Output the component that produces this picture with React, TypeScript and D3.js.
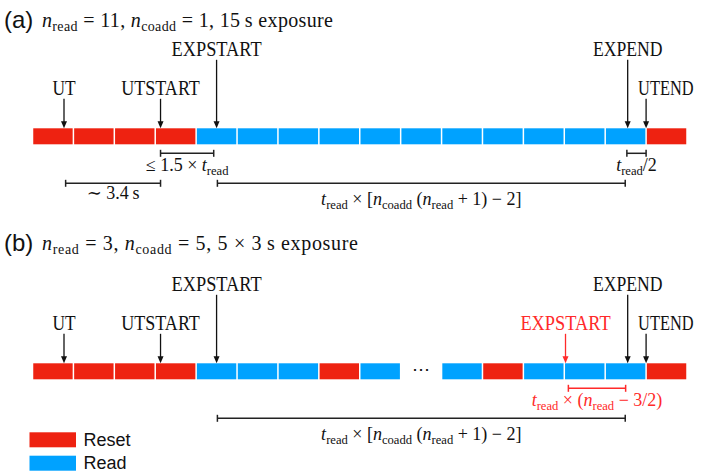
import React from "react";
import * as d3 from "d3";

// ---------- data ----------
const SLOT_COUNT = 16;
const cellsA = ["reset", "reset", "reset", "reset", "read", "read", "read", "read", "read", "read", "read", "read", "read", "read", "read", "reset"];
const cellsB = ["reset", "reset", "reset", "reset", "read", "read", "read", "reset", "read", "gap", "read", "reset", "read", "read", "read", "reset"];

// marker positions in slot (t_read) units
const markersA = [
  { name: "UT", t: 0.77, level: "low", color: "black" },
  { name: "UTSTART", t: 3.13, level: "low", color: "black" },
  { name: "EXPSTART", t: 4.5, level: "high", color: "black" },
  { name: "EXPEND", t: 14.55, level: "high", color: "black" },
  { name: "UTEND", t: 15.0, level: "low", color: "black" },
];
const markersB = [
  { name: "UT", t: 0.77, level: "low", color: "black" },
  { name: "UTSTART", t: 3.13, level: "low", color: "black" },
  { name: "EXPSTART", t: 4.5, level: "high", color: "black" },
  { name: "EXPSTART", t: 13.03, level: "low", color: "red" },
  { name: "EXPEND", t: 14.55, level: "high", color: "black" },
  { name: "UTEND", t: 15.0, level: "low", color: "black" },
];

type Part = [string, "i" | "r" | "s"];
const titleA: Part[] = [["n", "i"], ["read", "s"], [" = 11, ", "r"], ["n", "i"], ["coadd", "s"], [" = 1, 15\u2009s exposure", "r"]];
const titleB: Part[] = [["n", "i"], ["read", "s"], [" = 3, ", "r"], ["n", "i"], ["coadd", "s"], [" = 5, 5 × 3\u2009s exposure", "r"]];
const longLabel: Part[] = [["t", "i"], ["read", "s"], [" × [", "r"], ["n", "i"], ["coadd", "s"], [" (", "r"], ["n", "i"], ["read", "s"], [" + 1) − 2]", "r"]];

const bracketsA = [
  { from: 3.13, to: 4.43, row: 1, color: "black", label: [["≤ 1.5 × ", "r"], ["t", "i"], ["read", "s"]] as Part[] },
  { from: 0.81, to: 3.13, row: 2, color: "black", label: [["∼ 3.4\u2009s", "r"]] as Part[] },
  { from: 4.52, to: 14.49, row: 2, color: "black", label: longLabel },
  { from: 14.53, to: 15.0, row: 1, color: "black", label: [["t", "i"], ["read", "s"], ["/2", "r"]] as Part[] },
];
const bracketsB = [
  { from: 13.1, to: 14.5, row: 1, color: "red", label: [["t", "i"], ["read", "s"], [" × (", "r"], ["n", "i"], ["read", "s"], [" − 3/2)", "r"]] as Part[] },
  { from: 4.52, to: 14.49, row: 2, color: "black", label: longLabel },
];

const legendItems = [
  { key: "reset", label: "Reset" },
  { key: "read", label: "Read" },
];

// ---------- style ----------
const COLORS: Record<string, string> = { reset: "#EE2211", read: "#00A2FF" };
const RED_TXT = "#FF2A2A";
const TT = "'Liberation Serif', 'DejaVu Serif', serif";
const SERIF = "'Liberation Serif', 'DejaVu Serif', serif";
const SANS = "'Liberation Sans', Arial, Helvetica, sans-serif";
const TT_SIZE = 21;
// approximate advance widths (em) of Liberation Serif capitals, used to condense to a typewriter pitch
const CAP_W: Record<string, number> = { E: 0.611, X: 0.722, P: 0.556, S: 0.556, T: 0.611, A: 0.722, R: 0.667, U: 0.722, N: 0.722, D: 0.722 };

const W = 702;
const H = 474;
const x = d3.scaleLinear().domain([0, SLOT_COUNT]).range([32.5, 687]);

function MathLabel({ x, y, parts, size, anchor = "middle", fill = "#111", length }: any) {
  let shifted = false;
  const sub = size * 0.22;
  const kids = parts.map(([s, k]: Part, i: number) => {
    let dy: number | undefined;
    if (k === "s" && !shifted) { dy = sub; shifted = true; }
    else if (k !== "s" && shifted) { dy = -sub; shifted = false; }
    return (
      <tspan key={i} dy={dy} fontStyle={k === "i" ? "italic" : "normal"} fontSize={k === "s" ? size * 0.7 : size}>
        {s}
      </tspan>
    );
  });
  return (
    <text
      x={x}
      y={y}
      textAnchor={anchor}
      fontFamily={SERIF}
      fontSize={size}
      fill={fill}
      style={{ whiteSpace: "pre" }}
      textLength={length}
      lengthAdjust={length ? "spacing" : undefined}
    >
      {kids}
    </text>
  );
}

function TTLabel({ x, y, name, pitch, anchor, fill }: any) {
  const natural = name.split("").reduce((s: number, c: string) => s + (CAP_W[c] ?? 0.65), 0) * TT_SIZE;
  const sx = (name.length * pitch) / natural;
  return (
    <g transform={`translate(${x},${y}) scale(${sx},1)`}>
      <text x={0} y={0} textAnchor={anchor} fontFamily={TT} fontSize={TT_SIZE} fill={fill}>
        {name}
      </text>
    </g>
  );
}

function Arrow({ xPos, y1, y2, color }: any) {
  const head = 7, hw = 3;
  return (
    <g>
      <line x1={xPos} x2={xPos} y1={y1} y2={y2 - head + 1} stroke={color} strokeWidth={1.3} />
      <path d={`M${xPos - hw},${y2 - head}L${xPos + hw},${y2 - head}L${xPos},${y2}Z`} fill={color} />
    </g>
  );
}

function Bracket({ x1, x2, y, color }: any) {
  return (
    <g stroke={color} strokeWidth={1.5}>
      <line x1={x1} x2={x2} y1={y} y2={y} />
      <line x1={x1} x2={x1} y1={y - 3.5} y2={y + 3.5} />
      <line x1={x2} x2={x2} y1={y - 3.5} y2={y + 3.5} />
    </g>
  );
}

function Panel({ letter, title, titleLen, cells, markers, brackets, barTop, titleY }: any) {
  const barH = 16;
  const bandW = x(1) - x(0);
  return (
    <g>
      <text x={4} y={titleY} fontFamily={SANS} fontSize={24} fill="#111">({letter})</text>
      <MathLabel x={42} y={titleY - 1} parts={title} size={20} anchor="start" length={titleLen} />
      {cells.map((c: string, i: number) =>
        c === "gap" ? (
          <text key={i} x={x(i + 0.5)} y={barTop + barH / 2 + 4} textAnchor="middle" fontFamily={SERIF} fontSize={18} fill="#111">⋯</text>
        ) : (
          <rect key={i} x={x(i) + 0.75} y={barTop} width={bandW - 1.5} height={barH} fill={COLORS[c]} />
        )
      )}
      {markers.map((m: any, i: number) => {
        const high = m.level === "high";
        const baseline = barTop - (high ? 72.5 : 33.5);
        const color = m.color === "red" ? RED_TXT : "#111";
        const isEnd = m.name === "UTEND";
        return (
          <g key={i}>
            <TTLabel
              x={isEnd ? x(m.t) - 8 : x(m.t)}
              y={baseline}
              name={m.name}
              pitch={isEnd ? 11.1 : 11.6}
              anchor={isEnd ? "start" : "middle"}
              fill={color}
            />
            <Arrow xPos={x(m.t)} y1={baseline + 4} y2={barTop} color={color} />
          </g>
        );
      })}
      {brackets.map((b: any, i: number) => {
        const yb = barTop + (b.row === 1 ? 25 : 55);
        const color = b.color === "red" ? RED_TXT : "#222";
        const isShort = b.label.length === 1;
        const off = b.row === 1 ? 18 : isShort ? 16 : 22;
        return (
          <g key={i}>
            <Bracket x1={x(b.from)} x2={x(b.to)} y={yb} color={color} />
            <MathLabel x={(x(b.from) + x(b.to)) / 2} y={yb + off} parts={b.label} size={18} fill={b.color === "red" ? RED_TXT : "#111"} />
          </g>
        );
      })}
    </g>
  );
}

export default function App() {
  return (
    <div style={{ position: "fixed", left: 0, top: 0, width: W, height: H, background: "#fff" }}>
      <svg width={W} height={H} viewBox={`0 0 ${W} ${H}`} style={{ display: "block" }}>
        <rect width={W} height={H} fill="#fff" />
        <Panel letter="a" title={titleA} titleLen={291} cells={cellsA} markers={markersA} brackets={bracketsA} barTop={128.3} titleY={28} />
        <Panel letter="b" title={titleB} titleLen={316} cells={cellsB} markers={markersB} brackets={bracketsB} barTop={363.3} titleY={251} />
        {legendItems.map((l, i) => (
          <g key={l.key}>
            <rect x={29.5} y={432.3 + i * 23.4} width={46.5} height={15} fill={COLORS[l.key]} />
            <text x={83.5} y={446 + i * 23.4} fontFamily={SANS} fontSize={18} fill="#111">{l.label}</text>
          </g>
        ))}
      </svg>
    </div>
  );
}
